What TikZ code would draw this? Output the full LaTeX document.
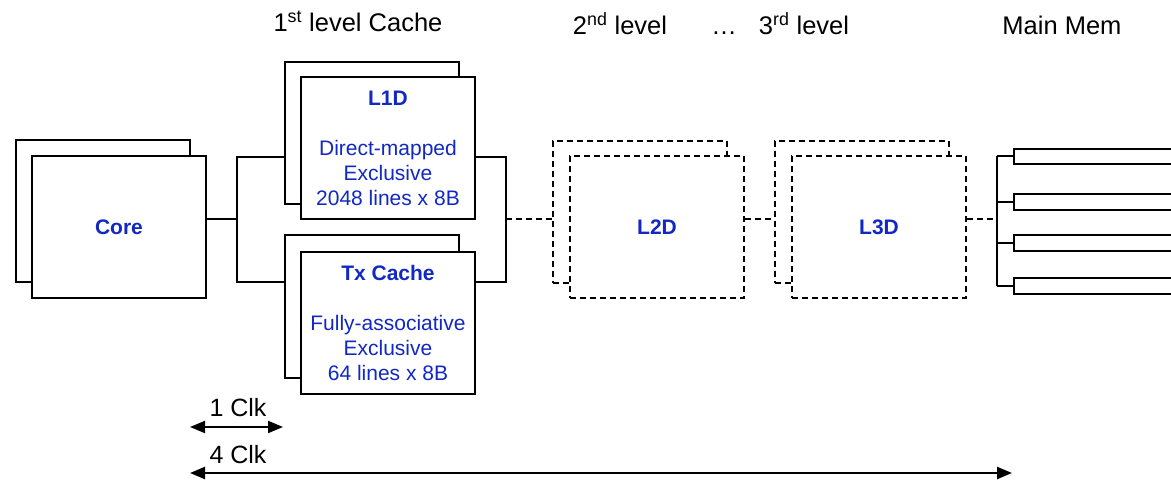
\documentclass[tikz,border=0pt]{standalone}
\usepackage{fontspec}
\setmainfont{Liberation Sans}
\usetikzlibrary{arrows.meta}
\definecolor{labelblue}{RGB}{18,40,195}
\begin{document}
\begin{tikzpicture}[x=1pt,y=-1pt,
  box/.style={draw, line width=2pt, fill=white, minimum width=174pt,
    minimum height=142pt, inner sep=0pt, align=center, text=labelblue,
    font=\fontsize{21}{25}\selectfont},
  dbox/.style={box, dash pattern=on 6pt off 4pt},
  wire/.style={line width=2pt},
  dwire/.style={wire, dash pattern=on 6pt off 4pt},
  head/.style={font=\fontsize{25.5}{30}\selectfont, anchor=base, inner sep=0pt},
  clk/.style={font=\fontsize{25}{30}\selectfont, inner sep=0pt},
  memrow/.style={draw, line width=2pt, anchor=west, minimum width=200pt, inner sep=0pt},
  span/.style={line width=2pt, {Triangle[length=15pt,width=12pt]}-{Triangle[length=15pt,width=12pt]}},
]
\useasboundingbox (0,0) rectangle (1171,481);

% column headings
\node[head] (h1) at (358,32) {1\textsuperscript{st} level Cache};
\node[head] (h2) at (620,35) {2\textsuperscript{nd} level};
\node[head] (hdots) at (724,35) {…};
\node[head] (h3) at (804,35) {3\textsuperscript{rd} level};
\node[head] (h4) at (1062,35) {Main Mem};

% core (two stacked boxes)
\node[box] (coreB) at (102.5,211.5) {};
\node[box] (core) at (119,227) {\textbf{Core}};

% first level caches
\node[box] (l1dB) at (372,133) {};
\node[box] (l1d) at (388,148) {\textbf{L1D}\\[25pt]Direct-mapped\\Exclusive\\2048 lines x 8B};
\node[box] (txB) at (372,306.5) {};
\node[box] (tx) at (388,323) {\textbf{Tx Cache}\\[25pt]Fully-associative\\Exclusive\\64 lines x 8B};

% second and third level caches
\node[dbox] (l2dB) at (640,212) {};
\node[dbox] (l2d) at (657,227) {\textbf{L2D}};
\node[dbox] (l3dB) at (862,212) {};
\node[dbox] (l3d) at (879,227) {\textbf{L3D}};

% main memory banks
\node[memrow, minimum height=15pt] (m1) at (1013,156.5) {};
\node[memrow, minimum height=16pt] (m2) at (1013,202) {};
\node[memrow, minimum height=16pt] (m3) at (1013,243) {};
\node[memrow, minimum height=16pt] (m4) at (1013,286) {};

% interconnect
\draw[wire] (core.east |- 0,219) -- (237,219);
\draw[wire] (l1dB.west |- 0,157) -| (237,282) -- (txB.west |- 0,282);
\draw[wire] (l1d.east |- 0,157) -| (506,282) -- (tx.east |- 0,282);
\draw[dwire] (506,219) -- (l2dB.west |- 0,219);
\draw[dwire] (l2d.east |- 0,219) -- (l3dB.west |- 0,219);
\draw[dwire] (l3d.east |- 0,219) -- (997,219);
\draw[wire] (m1.west -| 997,0) -- (m4.west -| 997,0);
\foreach \m in {m1,m2,m3,m4}
  \draw[wire] (\m.west -| 997,0) -- (\m.west);

% latency spans
\coordinate (a1) at (190,427);
\coordinate (b1) at (283,427);
\draw[span] (a1) -- (b1);
\node[clk] (c1) at (238,408) {1 Clk};
\coordinate (a4) at (190,473);
\coordinate (b4) at (1012,473);
\draw[span, line width=2.4pt] (a4) -- (b4);
\node[clk] (c4) at (238,455) {4 Clk};
\end{tikzpicture}
\end{document}
